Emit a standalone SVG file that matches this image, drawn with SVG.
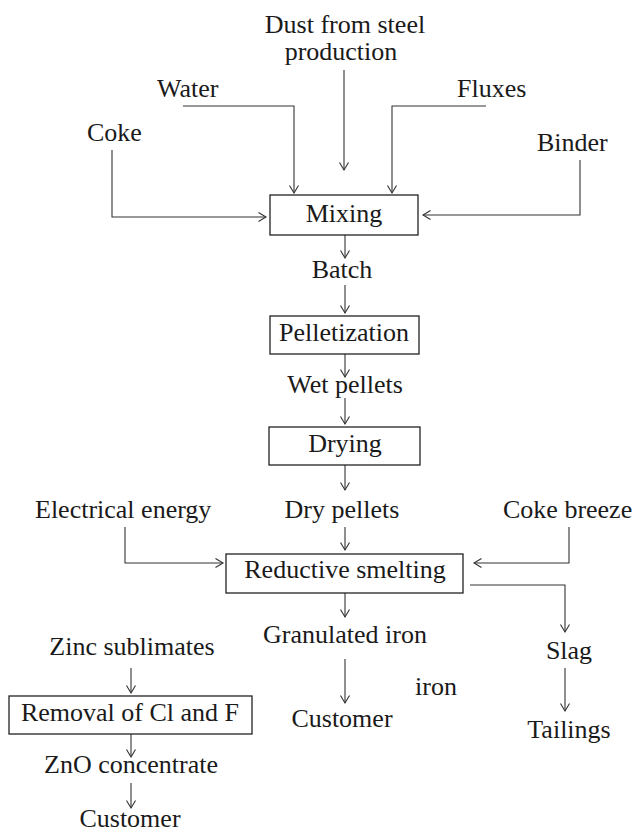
<svg xmlns="http://www.w3.org/2000/svg" width="636" height="834" viewBox="0 0 636 834">
<style>
text{font-family:"Liberation Serif","Times New Roman",serif;font-size:26px;fill:#1a1a1a}
.c{text-anchor:middle}
.box{fill:#fff;stroke:#222;stroke-width:1.3}
.ln{fill:none;stroke:#333;stroke-width:1.1;marker-end:url(#ah)}
</style>
<defs>
<marker id="ah" markerUnits="userSpaceOnUse" markerWidth="12" markerHeight="12" viewBox="-9 -6 10 12" refX="0" refY="0" orient="auto">
<path d="M-7.5,-4.5 L0,0 L-7.5,4.5" fill="none" stroke="#333" stroke-width="1.1"/>
</marker>
</defs>
<g id="connectors">
<path class="ln" d="M344 70 V170"/>
<path class="ln" d="M183 106 H294 V193"/>
<path class="ln" d="M486 106 H392 V193"/>
<path class="ln" d="M112 150 V217 H266"/>
<path class="ln" d="M580 160 V215 H423"/>
<path class="ln" d="M345 235 V258"/>
<path class="ln" d="M345 285 V313"/>
<path class="ln" d="M345 354 V377"/>
<path class="ln" d="M345 398 V424"/>
<path class="ln" d="M345 465 V490"/>
<path class="ln" d="M345 527 V550"/>
<path class="ln" d="M125 527 V563 H223"/>
<path class="ln" d="M569 527 V563 H474"/>
<path class="ln" d="M470 585 H565 V632"/>
<path class="ln" d="M345 593 V617"/>
<path class="ln" d="M345 659 V703"/>
<path class="ln" d="M565 668 V711"/>
<path class="ln" d="M131 668 V693"/>
<path class="ln" d="M131 734 V757"/>
<path class="ln" d="M131 783 V808"/>
</g>
<g id="dust"><text class="c" x="345" y="33">Dust from steel</text><text class="c" x="341" y="60">production</text></g>
<g id="water"><text x="157" y="97">Water</text></g>
<g id="fluxes"><text x="457" y="97">Fluxes</text></g>
<g id="coke"><text x="87" y="141">Coke</text></g>
<g id="binder"><text x="537" y="151">Binder</text></g>
<g id="mixing"><rect class="box" x="270" y="195" width="148" height="40"/><text class="c" x="344" y="222">Mixing</text></g>
<g id="batch"><text class="c" x="342" y="278">Batch</text></g>
<g id="pelletization"><rect class="box" x="270" y="316" width="149" height="38"/><text class="c" x="344" y="341">Pelletization</text></g>
<g id="wet-pellets"><text class="c" x="345" y="393">Wet pellets</text></g>
<g id="drying"><rect class="box" x="269" y="427" width="151" height="38"/><text class="c" x="345" y="452">Drying</text></g>
<g id="electrical-energy"><text x="35" y="518">Electrical energy</text></g>
<g id="dry-pellets"><text class="c" x="342" y="518">Dry pellets</text></g>
<g id="coke-breeze"><text x="503" y="518">Coke breeze</text></g>
<g id="reductive-smelting"><rect class="box" x="226" y="554" width="237" height="39"/><text class="c" x="345" y="578">Reductive smelting</text></g>
<g id="granulated-iron"><text class="c" x="345" y="643">Granulated iron</text></g>
<g id="slag"><text class="c" x="569" y="659">Slag</text></g>
<g id="zinc-sublimates"><text class="c" x="132" y="655">Zinc sublimates</text></g>
<g id="iron"><text x="415" y="695">iron</text></g>
<g id="removal"><rect class="box" x="9" y="696" width="243" height="38"/><text class="c" x="130" y="721">Removal of Cl and F</text></g>
<g id="customer-iron"><text class="c" x="342" y="727">Customer</text></g>
<g id="tailings"><text class="c" x="569" y="738">Tailings</text></g>
<g id="zno-concentrate"><text class="c" x="131" y="773">ZnO concentrate</text></g>
<g id="customer-zno"><text class="c" x="130" y="827">Customer</text></g>
</svg>
